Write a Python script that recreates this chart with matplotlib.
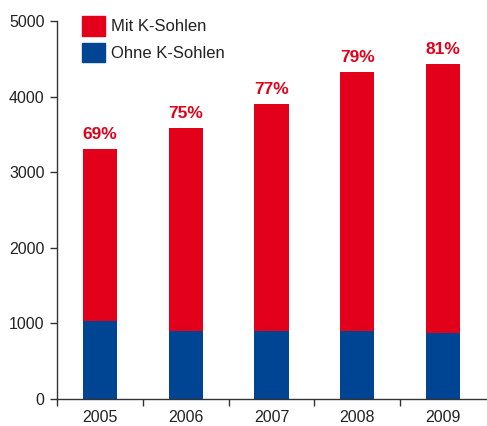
import matplotlib
matplotlib.use("Agg")
import matplotlib.pyplot as plt
from matplotlib.patches import Patch
import numpy as np

years = ["2005", "2006", "2007", "2008", "2009"]
ohne = [1030, 900, 900, 900, 870]
total = [3310, 3590, 3905, 4330, 4435]
mit = [t - o for t, o in zip(total, ohne)]
pct_labels = ["69%", "75%", "77%", "79%", "81%"]
yticks = [0, 1000, 2000, 3000, 4000, 5000]

RED = "#E2001A"
BLUE = "#004494"

plt.rcParams["font.family"] = ["Liberation Sans", "DejaVu Sans"]

fig = plt.figure(figsize=(4.87, 4.26), dpi=100)
ax = fig.add_axes([0.117, 0.0634, 0.881, 0.8873])

x = np.arange(len(years))
w = 0.40
ax.bar(x, ohne, width=w, color=BLUE, label="Ohne K-Sohlen")
ax.bar(x, mit, width=w, bottom=ohne, color=RED, label="Mit K-Sohlen")

for xi, t, lab in zip(x, total, pct_labels):
    ax.annotate(lab, (xi, t), xytext=(0, 7), textcoords="offset pixels",
                ha="center", va="bottom", color=RED, fontsize=12.5,
                fontweight="bold")

ax.set_xlim(-0.5, 4.5)
ax.set_ylim(0, 5000)
ax.set_yticks(yticks)
ax.set_xticks(np.arange(-0.5, 4.0, 1.0))
ax.set_xticklabels([])
ax.set_xticks(x, minor=True)
ax.set_xticklabels(years, minor=True)
ax.tick_params(axis="x", which="minor", length=0, pad=8, labelsize=11.5, colors="#222222")
ax.tick_params(axis="x", which="major", length=5, width=1, color="#333333")
ax.tick_params(axis="y", length=5, width=1, labelsize=11.5, colors="#222222", pad=4)
ax.tick_params(axis="y", color="#333333")

for s in ["top", "right"]:
    ax.spines[s].set_visible(False)
for s in ["left", "bottom"]:
    ax.spines[s].set_color("#333333")
    ax.spines[s].set_linewidth(1.0)

handles = [Patch(color=RED, label="Mit K-Sohlen"), Patch(color=BLUE, label="Ohne K-Sohlen")]
ax.legend(handles=handles, loc="upper left", bbox_to_anchor=(0.042, 1.03),
          frameon=False, fontsize=12, handlelength=1.4, handleheight=1.4,
          labelspacing=0.42, handletextpad=0.35, borderaxespad=0,
          labelcolor="#222222")

fig.savefig("out.png", dpi=100)
